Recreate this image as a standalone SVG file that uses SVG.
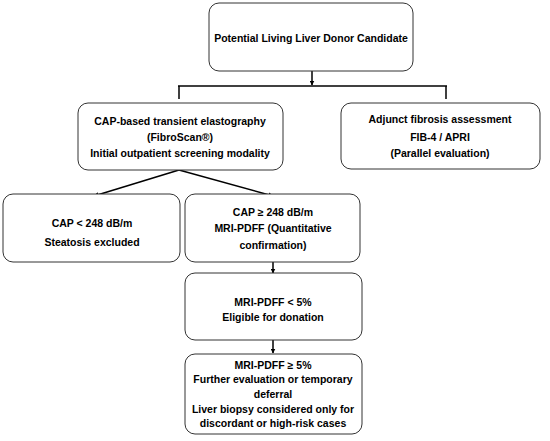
<svg xmlns="http://www.w3.org/2000/svg" width="550" height="441" viewBox="0 0 550 441">
<defs>
<marker id="ah" viewBox="0 0 10 10" refX="9" refY="5" markerWidth="5" markerHeight="5" orient="auto" markerUnits="userSpaceOnUse">
<path d="M0,0 L10,5 L0,10 z" fill="#000"/>
</marker>
<style>
.box{fill:#fff;stroke:#333;stroke-width:1}
.t{font-family:"Liberation Sans",Arial,sans-serif;font-weight:bold;font-size:10.5px;fill:#000;text-anchor:middle}
.c{fill:none;stroke:#000;stroke-width:1.5}
</style>
</defs>
<rect width="550" height="441" fill="#fff"/>
<g id="connectors">
<path class="c" d="M312,71 V85" marker-end="url(#ah)"/>
<path class="c" d="M178,86 H447"/>
<path class="c" d="M179,86 V99"/>
<path class="c" d="M446,86 V99"/>
<path class="c" d="M179,170 L94,196" marker-end="url(#ah)"/>
<path class="c" d="M179,170 L273,196" marker-end="url(#ah)"/>
<path class="c" d="M273,262 V273" marker-end="url(#ah)"/>
<path class="c" d="M273,340 V353" marker-end="url(#ah)"/>
</g>
<g id="n1">
<rect class="box" x="209" y="3" width="204" height="68" rx="10"/>
<text class="t" x="311" y="42">Potential Living Liver Donor Candidate</text>
</g>
<g id="n2">
<rect class="box" x="78" y="103" width="205" height="67" rx="10"/>
<text class="t" x="180" y="125">CAP-based transient elastography</text>
<text class="t" x="180" y="141">(FibroScan®)</text>
<text class="t" x="180" y="157">Initial outpatient screening modality</text>
</g>
<g id="n3">
<rect class="box" x="341" y="103" width="199" height="66" rx="10"/>
<text class="t" x="440" y="123">Adjunct fibrosis assessment</text>
<text class="t" x="440" y="141">FIB-4 / APRI</text>
<text class="t" x="440" y="157">(Parallel evaluation)</text>
</g>
<g id="n4">
<rect class="box" x="3" y="194" width="177" height="68" rx="10"/>
<text class="t" x="92" y="227">CAP &lt; 248 dB/m</text>
<text class="t" x="92" y="246">Steatosis excluded</text>
</g>
<g id="n5">
<rect class="box" x="185" y="194" width="175" height="68" rx="10"/>
<text class="t" x="273" y="216">CAP ≥ 248 dB/m</text>
<text class="t" x="273" y="232">MRI-PDFF (Quantitative</text>
<text class="t" x="273" y="249">confirmation)</text>
</g>
<g id="n6">
<rect class="box" x="185" y="273" width="177" height="67" rx="10"/>
<text class="t" x="273" y="306">MRI-PDFF &lt; 5%</text>
<text class="t" x="273" y="321">Eligible for donation</text>
</g>
<g id="n7">
<rect class="box" x="185" y="354" width="177" height="80" rx="10"/>
<text class="t" x="273" y="369">MRI-PDFF ≥ 5%</text>
<text class="t" x="273" y="383">Further evaluation or temporary</text>
<text class="t" x="273" y="398">deferral</text>
<text class="t" x="273" y="413">Liver biopsy considered only for</text>
<text class="t" x="273" y="427">discordant or high-risk cases</text>
</g>
</svg>
